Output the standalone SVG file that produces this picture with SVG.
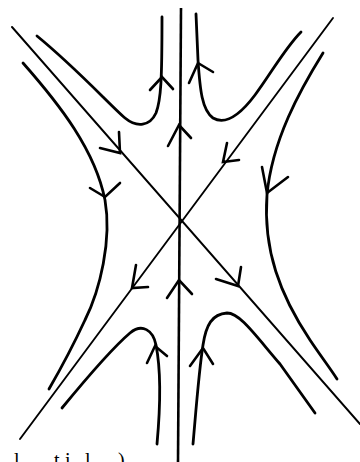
<svg xmlns="http://www.w3.org/2000/svg" width="360" height="462" viewBox="0 0 360 462">
<style>
.c{fill:none;stroke:#000;stroke-width:2.8;stroke-linecap:round;stroke-linejoin:round}
.d{fill:none;stroke:#000;stroke-width:1.9;stroke-linecap:round}
.v{fill:none;stroke:#000;stroke-width:2.6}
.a{fill:none;stroke:#000;stroke-width:2.6;stroke-linecap:round;stroke-linejoin:miter}
.t{font-family:"Liberation Serif",serif;font-size:20px;fill:#000}
</style>
<rect width="360" height="462" fill="#fff"/>
<g id="axes">
<path class="v" d="M181,8 L178,462"/>
<path class="d" d="M12,27 L360,424"/>
<path class="d" d="M333,18 L20,439"/>
<polyline class="a" points="168,146 179,125 191,138"/>
<polyline class="a" points="167,298 179,280 192,294"/>
<polyline class="a" points="100,148 120,153 119,132"/>
<polyline class="a" points="216,279 238,286 241,267"/>
<polyline class="a" points="227,143 223,162 239,160"/>
<polyline class="a" points="136,265 132,288 148,287"/>
</g>
<g id="curveA">
<path class="c" d="M37,36 C75,67 110,105 125,118 C137,128 150,126 156,113 C161,100 162,80 162,17"/>
<polyline class="a" points="150,90 162,77 173,89"/>
</g>
<g id="curveB">
<path class="c" d="M23,63 C60,105 95,150 105,200 C112,240 100,290 85,320 C72,348 60,370 49,389"/>
<polyline class="a" points="90,188 105,197 120,183"/>
</g>
<g id="curveC">
<path class="c" d="M301,32 C285,48 270,75 255,95 C240,115 225,125 213,118 C202,110 200,90 198,60 L196,14"/>
<polyline class="a" points="189,83 198,63 213,72"/>
</g>
<g id="curveD">
<path class="c" d="M323,53 C300,90 272,140 267,195 C263,250 280,295 310,340 C320,355 330,368 337,379"/>
<polyline class="a" points="262,167 267,193 288,177"/>
</g>
<g id="curveE">
<path class="c" d="M62,408 C85,380 110,350 130,333 C142,323 153,330 156,345 C160,365 161,400 157,444"/>
<polyline class="a" points="147,363 155,346 167,356"/>
</g>
<g id="curveF">
<path class="c" d="M193,444 C196,410 199,370 203,345 C206,325 212,314 227,313 C240,313 255,335 280,364 L315,413"/>
<polyline class="a" points="190,366 203,348 213,364"/>
</g>
<g id="caption">
<text class="t" y="467"><tspan x="14">l</tspan><tspan x="54">t</tspan><tspan x="65">i</tspan><tspan x="85">l</tspan><tspan x="118">)</tspan></text>
</g>
</svg>
